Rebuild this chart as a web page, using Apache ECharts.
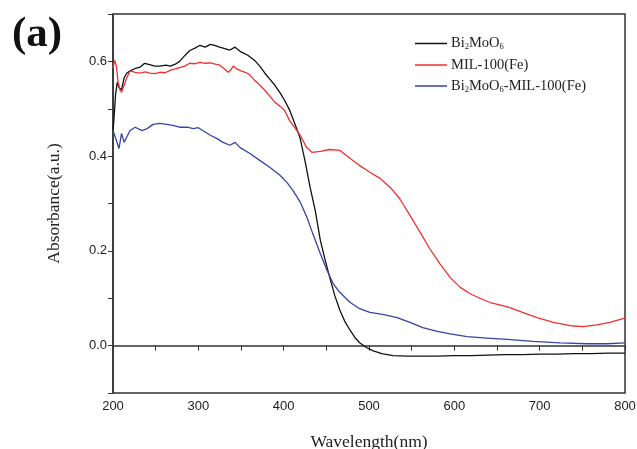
<!DOCTYPE html>
<html>
<head>
<meta charset="utf-8">
<script src="https://cdn.jsdelivr.net/npm/echarts@6/dist/echarts.min.js"></script>
<style>html,body{margin:0;padding:0;background:#fff}#c{width:637px;height:449px}</style>
</head>
<body>
<div id="c"></div>
<script>
// Bi2MoO6
const blackX = [200,201,203,205,207,210,213,216,220,226,232,237,243,249,255,262,267,273,278,284,290,296,302,308,314,319,325,331,337,343,350,358,366,372,378,384,390,396,401,407,413,419,425,431,437,443,449,454,460,466,472,478,484,489,497,505,515,528,545,560,580,600,620,640,660,680,700,720,740,760,780,800];
const blackY = [0.455,0.475,0.53,0.556,0.545,0.54,0.565,0.575,0.58,0.585,0.588,0.596,0.593,0.59,0.59,0.592,0.59,0.594,0.60,0.612,0.623,0.628,0.634,0.630,0.636,0.634,0.63,0.627,0.624,0.63,0.62,0.613,0.602,0.59,0.575,0.562,0.549,0.533,0.518,0.497,0.469,0.44,0.39,0.334,0.285,0.222,0.178,0.144,0.105,0.074,0.05,0.032,0.016,0.006,-0.004,-0.011,-0.017,-0.021,-0.022,-0.022,-0.022,-0.021,-0.021,-0.02,-0.019,-0.019,-0.018,-0.018,-0.017,-0.017,-0.016,-0.016];
// MIL-100(Fe)
const redX = [200,202,204,206,208,210,212,216,220,226,232,238,243,249,255,261,267,273,278,284,290,296,302,308,314,320,325,330,335,338,341,345,350,355,360,366,372,378,384,390,396,401,407,413,419,427,433,443,454,466,478,489,501,513,525,536,548,560,571,583,595,607,618,630,642,653,665,680,697,716,736,751,767,782,800];
const redY = [0.585,0.602,0.59,0.555,0.54,0.535,0.538,0.565,0.58,0.577,0.575,0.578,0.575,0.574,0.577,0.576,0.581,0.584,0.587,0.59,0.596,0.595,0.598,0.596,0.597,0.594,0.592,0.585,0.577,0.582,0.59,0.584,0.58,0.577,0.572,0.56,0.55,0.539,0.526,0.513,0.505,0.497,0.475,0.46,0.445,0.418,0.408,0.41,0.414,0.412,0.395,0.38,0.366,0.353,0.334,0.31,0.275,0.239,0.205,0.173,0.144,0.123,0.11,0.1,0.091,0.086,0.08,0.07,0.059,0.049,0.042,0.04,0.044,0.049,0.058];
// Bi2MoO6-MIL-100(Fe)
const blueX = [200,202,204,207,210,213,216,220,226,234,240,247,255,263,270,278,287,294,300,305,314,322,329,337,343,349,360,372,384,396,404,411,419,427,434,443,451,458,466,478,489,501,516,533,548,563,580,595,615,638,662,692,724,755,779,800];
const blueY = [0.454,0.458,0.433,0.416,0.448,0.429,0.44,0.454,0.461,0.454,0.458,0.467,0.469,0.467,0.465,0.461,0.461,0.458,0.46,0.454,0.444,0.437,0.429,0.423,0.429,0.418,0.406,0.391,0.376,0.359,0.344,0.327,0.304,0.272,0.237,0.194,0.158,0.131,0.112,0.091,0.078,0.07,0.066,0.059,0.049,0.038,0.03,0.025,0.019,0.016,0.013,0.009,0.006,0.004,0.004,0.006];

const seriesNames = ['Bi2MoO6', 'MIL-100(Fe)', 'Bi2MoO6-MIL-100(Fe)'];
const legendRich = {
  'Bi2MoO6': '{n|Bi}{s|2}{n|MoO}{s|6}',
  'MIL-100(Fe)': '{n|MIL-100(Fe)}',
  'Bi2MoO6-MIL-100(Fe)': '{n|Bi}{s|2}{n|MoO}{s|6}{n|-MIL-100(Fe)}'
};
const xTickLabels = [200,300,400,500,600,700,800];
const yTickLabels = ['0.0','0.2','0.4','0.6'];

function pairs(xs, ys){ return xs.map((x,i)=>[x, ys[i]]); }

const chart = echarts.init(document.getElementById('c'), null, {renderer:'canvas'});
const serif = '"Liberation Serif","Times New Roman",serif';
const sans = '"Liberation Sans",Arial,sans-serif';
chart.setOption({
  animation:false,
  backgroundColor:'#fff',
  title:{ text:'(a)', left:7, top:8, textStyle:{fontFamily:serif, fontWeight:'bold', fontSize:43, color:'#111'} },
  grid:{ left:113, right:12, top:14, bottom:56, show:true, borderColor:'#333', borderWidth:1.5, backgroundColor:'transparent', containLabel:false, outerBoundsMode:'none' },
  legend:{
    orient:'vertical', left:410, top:31, itemWidth:32, itemHeight:1.5, itemGap:6, icon:'rect',
    data: seriesNames,
    formatter: n => legendRich[n],
    textStyle:{ fontFamily:serif, fontSize:14.5, color:'#222', padding:[0,0,0,-1],
      rich:{ n:{fontFamily:serif, fontSize:14.5, color:'#222'}, s:{fontFamily:serif, fontSize:8.5, color:'#222', verticalAlign:'bottom', padding:[7,0,0,0]} } }
  },
  xAxis:{
    type:'value', min:200, max:800, interval:50,
    name:'Wavelength(nm)', nameLocation:'middle', nameGap:40,
    nameTextStyle:{fontFamily:serif, fontSize:17.5, color:'#222'},
    axisLine:{show:true, lineStyle:{color:'#333', width:1.5}},
    axisTick:{show:true, length:5, lineStyle:{color:'#333'}},
    axisLabel:{ margin:7, fontFamily:sans, fontSize:13, color:'#222', formatter: v => xTickLabels.includes(v) ? String(v) : '' },
    splitLine:{show:false}
  },
  yAxis:{
    type:'value', min:-0.1, max:0.7, interval:0.1,
    name:'Absorbance(a.u.)', nameLocation:'middle', nameGap:50,
    nameTextStyle:{fontFamily:serif, fontSize:17.5, color:'#222'},
    axisLine:{show:true, lineStyle:{color:'#333', width:1.5}},
    axisTick:{show:true, length:5, lineStyle:{color:'#333'}},
    axisLabel:{ margin:6, fontFamily:sans, fontSize:13, color:'#222', formatter: v => { const s = v.toFixed(1); return yTickLabels.includes(s) ? s : ''; } },
    splitLine:{show:false}
  },
  series:[
    {name:seriesNames[0], type:'line', symbol:'none', data:pairs(blackX, blackY), lineStyle:{color:'#111', width:1.3}, itemStyle:{color:'#111'}},
    {name:seriesNames[1], type:'line', symbol:'none', data:pairs(redX, redY), lineStyle:{color:'#ee3030', width:1.3}, itemStyle:{color:'#ee3030'}},
    {name:seriesNames[2], type:'line', symbol:'none', data:pairs(blueX, blueY), lineStyle:{color:'#3544a8', width:1.3}, itemStyle:{color:'#3544a8'}}
  ]
});
</script>
</body>
</html>
